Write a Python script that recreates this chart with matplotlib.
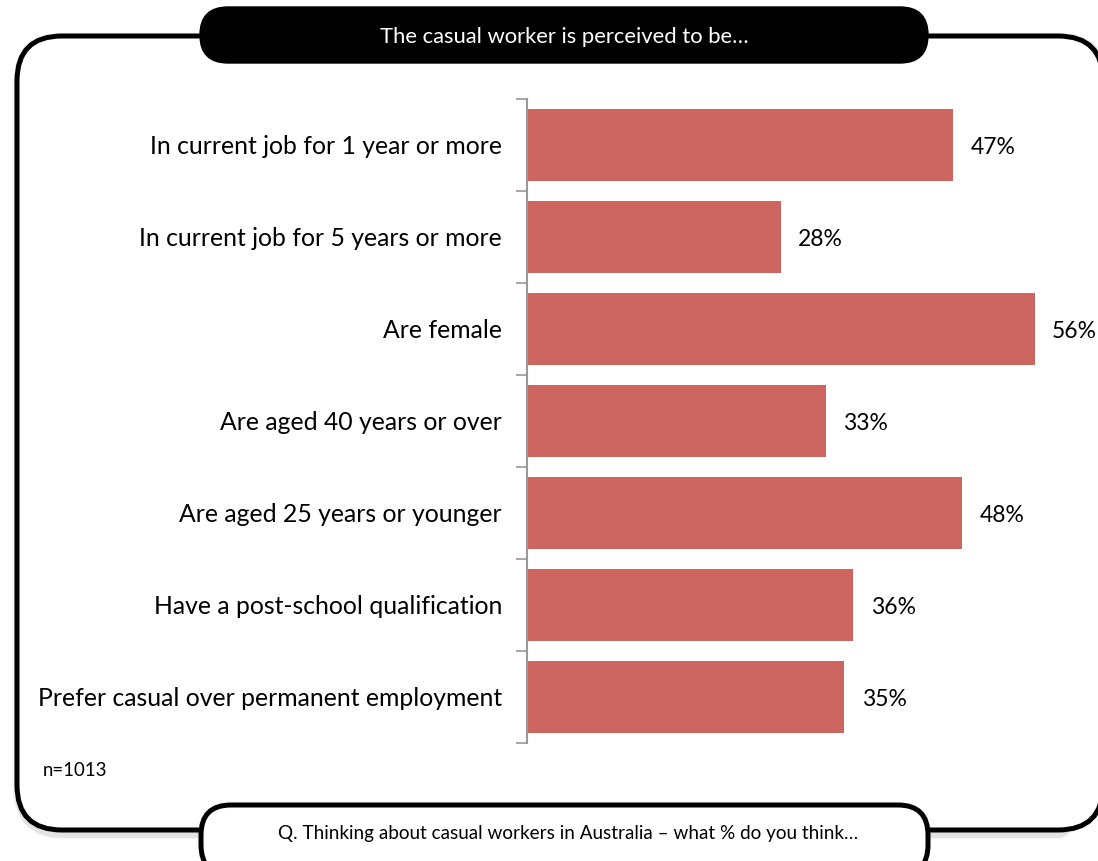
import matplotlib.pyplot as plt
from matplotlib.patches import FancyBboxPatch
import numpy as np

plt.rcParams['font.family'] = ['Lato', 'DejaVu Sans']

categories = [
    "In current job for 1 year or more",
    "In current job for 5 years or more",
    "Are female",
    "Are aged 40 years or over",
    "Are aged 25 years or younger",
    "Have a post-school qualification",
    "Prefer casual over permanent employment",
]
values = [47, 28, 56, 33, 48, 36, 35]
title = "The casual worker is perceived to be\u2026"
question = "Q. Thinking about casual workers in Australia \u2013 what % do you think\u2026"
sample_note = "n=1013"

W, H = 1098, 861
fig = plt.figure(figsize=(W / 100, H / 100), dpi=100)

# background layer in pixel units for the frame and the pills
bg = fig.add_axes([0, 0, 1, 1], zorder=0)
bg.set_xlim(0, W)
bg.set_ylim(H, 0)
bg.axis("off")

# soft shadow of the frame, then the frame itself
for lw, a in [(9, 0.08), (7, 0.15)]:
    bg.add_patch(FancyBboxPatch((19, 39), 1085, 794,
                                boxstyle="round,pad=0,rounding_size=45",
                                fc="none", ec="gray", lw=lw, alpha=a))
bg.add_patch(FancyBboxPatch((17, 36), 1086, 794,
                            boxstyle="round,pad=0,rounding_size=45",
                            fc="white", ec="black", lw=3.6))

# title pill
bg.add_patch(FancyBboxPatch((200, 7), 728, 56,
                            boxstyle="round,pad=0,rounding_size=28",
                            fc="black", ec="black", lw=1))
bg.text(564, 37, title, color="white", fontsize=15.8, ha="center", va="center")

# question pill at the bottom
bg.add_patch(FancyBboxPatch((201, 805), 727, 70,
                            boxstyle="round,pad=0,rounding_size=30",
                            fc="white", ec="black", lw=3.6))
bg.text(568, 834, question, color="black", fontsize=13.6, ha="center", va="center")

bg.text(43, 770, sample_note, fontsize=13.4, ha="left", va="center")

# bar chart
ax = fig.add_axes([527 / W, 1 - 743 / H, 544 / W, 644 / H], zorder=1)
ax.patch.set_alpha(0)
y = np.arange(len(categories))
bars = ax.barh(y, values, height=0.79, color="#CD6660")
ax.set_ylim(len(categories) - 0.5, -0.5)
ax.set_xlim(0, 60)

for yi, v in zip(y, values):
    ax.text(v + 1.9, yi + 0.03, f"{v}%", fontsize=16.5, va="center", ha="left",
            clip_on=False)

ax.set_yticks(y)
ax.set_yticklabels(categories, fontsize=17.8)
ax.tick_params(axis="y", length=0, pad=18)
ax.set_yticks(np.arange(len(categories) + 1) - 0.5, minor=True)
ax.tick_params(axis="y", which="minor", length=8, width=1.2, color="#999999")
ax.set_xticks([])
for side in ["top", "right", "bottom"]:
    ax.spines[side].set_visible(False)
ax.spines["left"].set_color("#999999")
ax.spines["left"].set_linewidth(1.5)

fig.savefig("out.png", dpi=100)
